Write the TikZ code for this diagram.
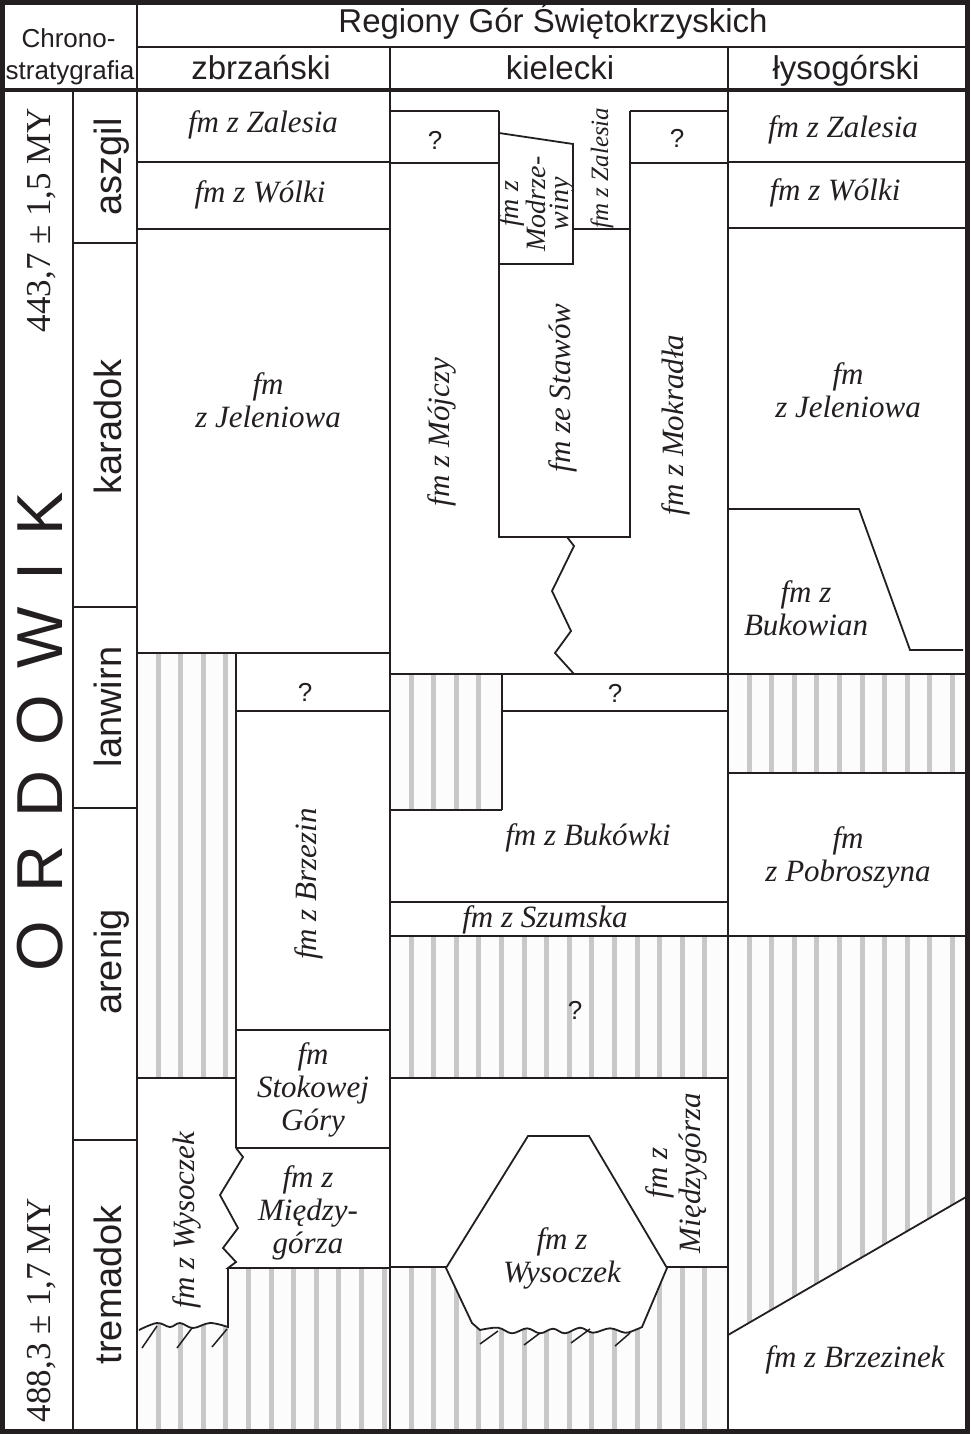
\documentclass[tikz,border=0pt]{standalone}
\usepackage{fontspec}
\setmainfont{Liberation Serif}
\newfontfamily\arialf{Liberation Sans}
\definecolor{ink}{RGB}{35,31,32}
\definecolor{stripe}{RGB}{200,200,200}
\definecolor{hbg}{RGB}{252,252,252}
\newcommand{\stripefill}[2]{%
  \pgfmathtruncatemacro\nstr{(#2-#1-27)/22.6}%
  \foreach \k in {0,...,\nstr}{\fill[stripe] ({#1+21+22.6*\k-2.5},0) rectangle ++(5,1434);}}
\tikzset{
  ln/.style={draw=ink, line width=1.8pt},
  tick/.style={draw=ink, line width=1.5pt},
  fm/.style={text=ink, font=\itshape\fontsize{31}{33}\selectfont, align=center, inner sep=0pt},
  fms/.style={text=ink, font=\itshape\fontsize{28}{23.5}\selectfont, align=center, inner sep=0pt},
  fmz/.style={text=ink, font=\itshape\fontsize{25}{27}\selectfont, align=center, inner sep=0pt},
  hd/.style={text=ink, font=\arialf\fontsize{33}{36}\selectfont, inner sep=0pt, anchor=base},
  hs/.style={text=ink, font=\arialf\fontsize{26}{28}\selectfont, inner sep=0pt, anchor=base},
  qm/.style={text=ink, font=\arialf\fontsize{26}{28}\selectfont, inner sep=0pt},
  stg/.style={text=ink, font=\arialf\fontsize{38}{40}\selectfont, inner sep=0pt, rotate=90, anchor=base},
  dt/.style={text=ink, font=\fontsize{35}{37}\selectfont, inner sep=0pt, rotate=90, anchor=base},
  ordl/.style={text=ink, font=\arialf\fontsize{65}{65}\selectfont, inner sep=0pt, rotate=90},
}
\begin{document}
\begin{tikzpicture}[x=1pt,y=-1pt]
\useasboundingbox (0,0) rectangle (970,1434);
\fill[white] (0,0) rectangle (970,1434);
% ---------- hatched regions ----------
\begin{scope}\clip (137,653) rectangle (236,1078); \fill[hbg] (137,653) rectangle (236,1078); \stripefill{137}{236}\end{scope}
\begin{scope}\clip (137,1267) rectangle (390,1434); \fill[hbg] (137,1267) rectangle (390,1434); \stripefill{137}{390}\end{scope}
\begin{scope}\clip (390,674) rectangle (502,810); \fill[hbg] (390,674) rectangle (502,810); \stripefill{390}{502}\end{scope}
\begin{scope}\clip (390,936) rectangle (728,1078); \fill[hbg] (390,936) rectangle (728,1078); \stripefill{390}{728}\end{scope}
\begin{scope}\clip (390,1267) rectangle (728,1434); \fill[hbg] (390,1267) rectangle (728,1434); \stripefill{390}{728}\end{scope}
\begin{scope}\clip (728,674) rectangle (966,773); \fill[hbg] (728,674) rectangle (966,773); \stripefill{728}{966}\end{scope}
\begin{scope}\clip (728,936) -- (966,936) -- (966,1197) -- (728,1335) -- cycle; \fill[hbg] (728,936) rectangle (966,1340); \stripefill{728}{966}\end{scope}
% white fill of Wysoczek (zbrzanski) over hatch
\fill[white] (137,1262) -- (228,1262) -- (228,1327) -- plot[smooth, tension=0.6] coordinates {(228,1327) (210,1323) (193,1328) (180,1323) (170,1327) (157,1323) (139,1330)} -- (137,1331) -- cycle;
% ---------- grid lines ----------
\draw[ln] (137,0) -- (137,1434);
\draw[ln] (137,47) -- (970,47);
\draw[ln] (390,47) -- (390,1434);
\draw[ln] (728,47) -- (728,1434);
\draw[ln] (73,90) -- (73,1434);
\draw[ln] (73,243) -- (137,243);
\draw[ln] (73,607) -- (137,607);
\draw[ln] (73,808) -- (137,808);
\draw[ln] (73,1140) -- (137,1140);
% zbrzanski
\draw[ln] (137,162) -- (390,162);
\draw[ln] (137,229) -- (390,229);
\draw[ln] (137,653) -- (390,653);
\draw[ln] (236,653) -- (236,1148);
\draw[ln] (236,711) -- (390,711);
\draw[ln] (236,1030) -- (390,1030);
\draw[ln] (137,1078) -- (236,1078);
\draw[ln] (236,1148) -- (390,1148);
\draw[ln] (236,1148) -- (243,1157) -- (220,1195) -- (238,1228) -- (223,1248) -- (236,1262) -- (228,1268) -- (390,1268);
\draw[ln] (228,1268) -- (228,1327) -- plot[smooth, tension=0.6] coordinates {(228,1327) (210,1323) (193,1328) (180,1323) (170,1327) (157,1323) (139,1330)};
\draw[tick] (157,1326) -- (142,1348);
\draw[tick] (192,1328) -- (177,1348);
\draw[tick] (227,1329) -- (212,1347);
% kielecki
\draw[ln] (391,111) -- (499,111);
\draw[ln] (391,163) -- (499,163);
\draw[ln] (630,111) -- (728,111);
\draw[ln] (630,163) -- (728,163);
\draw[ln] (499,111) -- (499,537) -- (630,537) -- (630,111);
\draw[ln] (499,133) -- (573,144) -- (573,264) -- (499,264);
\draw[ln] (573,229) -- (630,229);
\draw[ln] (567,537) -- (574,546) -- (552,591) -- (571,631) -- (555,653) -- (574,674);
\draw[ln] (390,674) -- (728,674);
\draw[ln] (502,674) -- (502,810);
\draw[ln] (502,711) -- (728,711);
\draw[ln] (390,810) -- (502,810);
\draw[ln] (390,902) -- (728,902);
\draw[ln] (390,936) -- (728,936);
\draw[ln] (390,1078) -- (728,1078);
\draw[ln] (390,1267) -- (446,1267);
\draw[ln] (667,1267) -- (728,1267);
\draw[ln, fill=white] (446,1268) -- (528,1136) -- (589,1136) -- (667,1268) -- (642,1327) -- plot[smooth, tension=0.6] coordinates {(642,1327) (635,1330) (625,1332.7) (610,1328.3) (593,1332.7) (580,1327.7) (565,1333.3) (553,1328.7) (540,1333.3) (527,1328.3) (512,1333.3) (498,1327.7) (480,1330)} -- (472,1323) -- cycle;
\draw[tick] (498,1331) -- (480,1344);
\draw[tick] (540,1333) -- (524,1345);
\draw[tick] (590,1329) -- (571,1343);
\draw[tick] (630,1333) -- (615,1346);
% lysogorski
\draw[ln] (728,162) -- (966,162);
\draw[ln] (728,228) -- (966,228);
\draw[ln] (728,509) -- (859,509) -- (910,650) -- (963,650);
\draw[ln] (728,674) -- (966,674);
\draw[ln] (728,773) -- (966,773);
\draw[ln] (728,936) -- (966,936);
\draw[ln] (728,1335) -- (966,1197);
% thick lines
\draw[draw=ink, line width=4pt] (0,90) -- (970,90);
\draw[draw=ink, line width=5pt] (2.5,2.5) rectangle (967.5,1431.5);
% ---------- header text ----------
\node[hd] (reg) at (553,33) {Regiony Gór Świętokrzyskich};
\node[hd] (zb) at (261,80) {zbrzański};
\node[hd] (kl) at (560,80) {kielecki};
\node[hd] (ly) at (846,80) {łysogórski};
\node[hs] (chr1) at (68.5,48) {Chrono-};
\node[hs] (chr2) at (70,80) {stratygrafia};
% ---------- left column ----------
\node[stg] (s1) at (121.5,167) {aszgil};
\node[stg] (s2) at (121.5,427) {karadok};
\node[stg] (s3) at (121.5,707) {lanwirn};
\node[stg] (s4) at (121.5,962) {arenig};
\node[stg] (s5) at (121.5,1285) {tremadok};
\node[dt] (d1) at (50,220) {443,7 ± 1,5 MY};
\node[dt] (d2) at (50,1310) {488,3 ± 1,7 MY};
\node[ordl] (o1) at (40,946) {O};
\node[ordl] (o2) at (40,869) {R};
\node[ordl] (o3) at (40,794) {D};
\node[ordl] (o4) at (40,720) {O};
\node[ordl] (o5) at (40,638) {W};
\node[ordl] (o6) at (40,571) {I};
\node[ordl] (o7) at (40,514) {K};
% ---------- zbrzanski text ----------
\node[fm] (z1) at (263,125) {fm z Zalesia};
\node[fm] (z2) at (260,195) {fm z Wólki};
\node[fm] (z3) at (268,400) {fm\\z Jeleniowa};
\node[qm] (zq) at (305,692) {?};
\node[fm, rotate=90] (z4) at (309,884) {fm z Brzezin};
\node[fm] (z5) at (313,1090) {fm\\Stokowej\\Góry};
\node[fm] (z6) at (308,1213) {fm z\\Między-\\górza};
\node[fm, rotate=90] (z7) at (187,1220) {fm z Wysoczek};
% ---------- kielecki text ----------
\node[qm] (kq1) at (435,140) {?};
\node[qm] (kq2) at (677,138) {?};
\node[fms, rotate=90] (k1) at (537,204) {fm z\\Modrze-\\winy};
\node[fmz, rotate=90] (k2) at (602,168) {fm z Zalesia};
\node[fm, rotate=90] (k3) at (442,432) {fm z Mójczy};
\node[fm, rotate=90] (k4) at (563,388) {fm ze Stawów};
\node[fm, rotate=90] (k5) at (676,425) {fm z Mokradła};
\node[qm] (kq3) at (615,693) {?};
\node[fm] (k6) at (588,838) {fm z Bukówki};
\node[fm] (k7) at (545,920) {fm z Szumska};
\node[qm] (kq4) at (575,1010) {?};
\node[fm, rotate=90] (k8) at (676,1173) {fm z\\Międzygórza};
\node[fm] (k9) at (562,1258) {fm z\\Wysoczek};
% ---------- lysogorski text ----------
\node[fm] (l1) at (843,130) {fm z Zalesia};
\node[fm] (l2) at (835,193) {fm z Wólki};
\node[fm] (l3) at (848,390) {fm\\z Jeleniowa};
\node[fm] (l4) at (806,608) {fm z\\Bukowian};
\node[fm] (l5) at (848,857) {fm\\z Pobroszyna};
\node[fm] (l6) at (855,1360) {fm z Brzezinek};
\end{tikzpicture}
\end{document}
